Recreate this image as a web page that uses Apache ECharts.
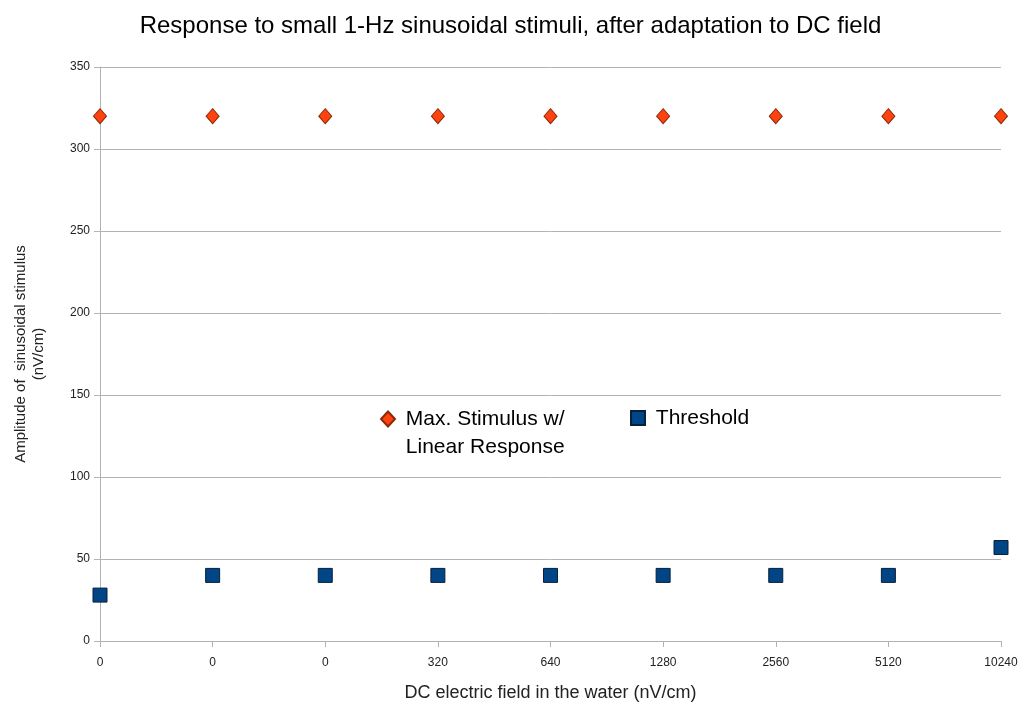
<!DOCTYPE html>
<html><head><meta charset="utf-8">
<script src="https://cdn.jsdelivr.net/npm/echarts@6/dist/echarts.min.js"></script>
<style>html,body{margin:0;padding:0;background:#fff}#c{width:1021px;height:707px}</style>
</head><body><div id="c"></div>
<script>
var categories = ['0', '0', '0', '320', '640', '1280', '2560', '5120', '10240'];
var maxStimulus = [320, 320, 320, 320, 320, 320, 320, 320, 320];
var threshold = [28, 40, 40, 40, 40, 40, 40, 40, 57];
var yTicks = {min: 0, max: 350, interval: 50};

var font = 'Liberation Sans, Arial, sans-serif';
var chart = echarts.init(document.getElementById('c'));
chart.setOption({
  backgroundColor: '#fff',
  animation: false,
  title: {
    text: 'Response to small 1-Hz sinusoidal stimuli, after adaptation to DC field',
    left: 'center', top: 9,
    textStyle: {fontFamily: font, fontSize: 24, fontWeight: 'normal', color: '#000'}
  },
  grid: {left: 100, right: 20, top: 67, bottom: 66, containLabel: false, outerBoundsMode: 'none'},
  legend: [{
    data: ['Max. Stimulus w/\nLinear Response'],
    formatter: function (n) { return ' \n' + n.split('\n').map(function (s) { return ' ' + s; }).join('\n'); },
    left: 375, top: 372, itemWidth: 14, itemHeight: 15, itemGap: 0,
    textStyle: {fontFamily: font, fontSize: 21, color: '#000', lineHeight: 28}
  }, {
    data: ['Threshold'],
    formatter: function (n) { return ' ' + n; },
    left: 625, top: 399, itemWidth: 14, itemHeight: 14,
    textStyle: {fontFamily: font, fontSize: 21, color: '#000', lineHeight: 28}
  }],
  xAxis: {
    type: 'category', data: categories, boundaryGap: false,
    name: 'DC electric field in the water (nV/cm)', nameLocation: 'middle', nameGap: 43,
    nameTextStyle: {fontFamily: font, fontSize: 18, color: '#222'},
    axisLine: {lineStyle: {color: '#b3b3b3'}},
    axisTick: {show: true, alignWithLabel: true, length: 6, lineStyle: {color: '#b3b3b3'}},
    axisLabel: {fontFamily: font, fontSize: 12, color: '#222', margin: 16},
    splitLine: {show: false}
  },
  yAxis: {
    type: 'value', min: yTicks.min, max: yTicks.max, interval: yTicks.interval,
    name: 'Amplitude of  sinusoidal stimulus\n(nV/cm)', nameLocation: 'middle', nameGap: 52, nameRotate: 90,
    nameTextStyle: {fontFamily: font, fontSize: 15, color: '#222', lineHeight: 18},
    axisLine: {show: true, lineStyle: {color: '#b3b3b3'}},
    axisTick: {show: true, length: 6, lineStyle: {color: '#b3b3b3'}},
    axisLabel: {fontFamily: font, fontSize: 12, color: '#222', margin: 10},
    splitLine: {show: true, lineStyle: {color: '#b3b3b3', width: 1}}
  },
  series: [{
    name: 'Max. Stimulus w/\nLinear Response', type: 'scatter', data: maxStimulus,
    symbol: 'diamond', symbolSize: [13, 15],
    itemStyle: {color: '#ff420e', borderColor: '#8a2a0a', borderWidth: 1, opacity: 1}
  }, {
    name: 'Threshold', type: 'scatter', data: threshold,
    symbol: 'rect', symbolSize: 14,
    itemStyle: {color: '#004586', borderColor: '#0a1f3a', borderWidth: 1, opacity: 1}
  }]
});
</script></body></html>
